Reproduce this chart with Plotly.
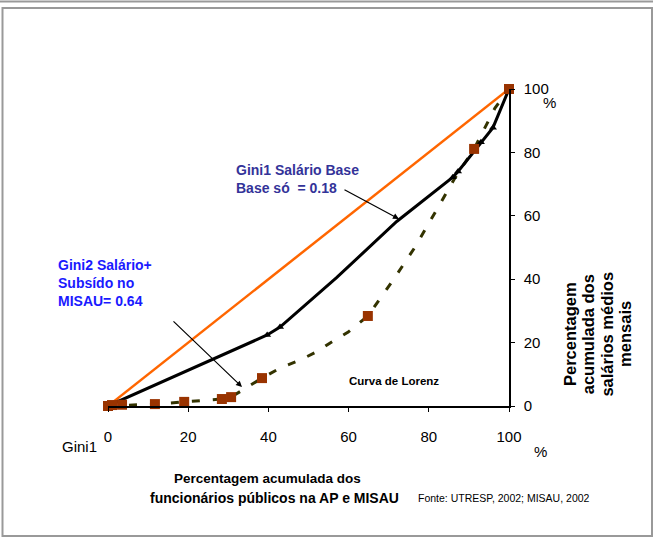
import plotly.graph_objects as go

# Linha de igualdade
igual_x = [0, 20, 40, 60, 80, 100]
igual_y = [0, 20, 40, 60, 80, 100]

# Gini1 - Salário base (linha preta)
gini1_x = [0, 20.4, 39.7, 42.9, 57.0, 72.0, 86.0, 87.3, 93.0, 96.0, 100]
gini1_y = [0, 11.4, 22.4, 24.9, 40.5, 58.2, 72.2, 74.0, 83.2, 87.8, 100]
gini1_mx = [39.7, 42.9, 86.0, 87.3, 93.0, 96.0]
gini1_my = [22.4, 24.9, 72.2, 74.0, 83.2, 87.8]

# Gini2 - Salário + subsídio (linha tracejada)
gini2_x = [0, 11.7, 19.0, 28.4, 30.7, 38.4, 43.0, 47.9, 51.9, 55.4, 59.9, 64.8,
           71.1, 76.6, 81.5, 86.5, 91.3, 94.0, 96.5, 100]
gini2_y = [0, 0.6, 1.3, 2.2, 2.8, 8.8, 12.0, 14.5, 17.0, 19.9, 23.3, 28.4,
           39.7, 50.2, 60.9, 71.9, 81.1, 88.0, 94.0, 100]
gini2_mx = [0, 1.0, 3.5, 11.7, 19.0, 28.4, 30.7, 38.4, 64.8, 91.3, 100]
gini2_my = [0, 0.3, 0.4, 0.6, 1.3, 2.2, 2.8, 8.8, 28.4, 81.1, 100]

ticks = [0, 20, 40, 60, 80, 100]

# titulo do eixo y, uma linha por anotacao
titulo_y = ["Percentagem", "acumulada dos", "salários médios", "mensais"]

FONTE = "Arial, Liberation Sans, sans-serif"

# area do grafico em pixels
X0, X1, Y0, Y1 = 108, 509, 406, 89


def px(x):
    return (x - X0) / (X1 - X0)


def py(y):
    return (Y0 - y) / (Y0 - Y1)


fig = go.Figure()

fig.add_trace(go.Scatter(x=igual_x, y=igual_y, mode='lines',
                         line=dict(color='#FF6600', width=2.5), cliponaxis=False))
fig.add_trace(go.Scatter(x=gini2_x, y=gini2_y, mode='lines',
                         line=dict(color='#333300', width=3, dash='8px,13px'), cliponaxis=False))
fig.add_trace(go.Scatter(x=gini1_x, y=gini1_y, mode='lines',
                         line=dict(color='black', width=3), cliponaxis=False))
fig.add_trace(go.Scatter(x=gini1_mx, y=gini1_my, mode='markers',
                         marker=dict(symbol='triangle-up', size=7, color='black'), cliponaxis=False))
fig.add_trace(go.Scatter(x=gini2_mx, y=gini2_my, mode='markers',
                         marker=dict(symbol='square', size=10, color='#993300'), cliponaxis=False))

anotacoes = [
    dict(x=px(234), y=py(179), text="<b>Gini1 Salário Base<br>Base só  = 0.18</b>",
         xanchor='left', yanchor='middle', align='left',
         font=dict(size=14, color='#333399')),
    dict(x=px(56), y=py(283), text="<b>Gini2 Salário+<br>Subsído no<br>MISAU= 0.64</b>",
         xanchor='left', yanchor='middle', align='left',
         font=dict(size=14, color='#1a1aff')),
    dict(x=px(394), y=py(381), text="<b>Curva de Lorenz</b>",
         xanchor='center', yanchor='middle', font=dict(size=11.5, color='black')),
    dict(x=px(60), y=py(446), text="Gini1", xanchor='left', yanchor='middle',
         font=dict(size=15, color='black')),
    dict(x=px(540), y=py(451), text="%", xanchor='center', yanchor='middle',
         font=dict(size=15, color='black')),
    dict(x=px(549), y=py(103), text="%", xanchor='center', yanchor='middle',
         font=dict(size=15, color='black')),
    dict(x=px(172), y=py(479), text="<b>Percentagem acumulada dos</b>",
         xanchor='left', yanchor='middle', font=dict(size=13.5, color='black')),
    dict(x=px(148), y=py(498), text="<b>funcionários públicos na AP e MISAU</b>",
         xanchor='left', yanchor='middle', font=dict(size=14, color='black')),
    dict(x=px(416), y=py(498), text="Fonte: UTRESP, 2002; MISAU, 2002",
         xanchor='left', yanchor='middle', font=dict(size=10.5, color='black')),
]
for i, linha in enumerate(titulo_y):
    anotacoes.append(dict(x=px(570 + 18.3 * i), y=py(334), text="<b>" + linha + "</b>",
                          textangle=-90, xanchor='center', yanchor='middle',
                          font=dict(size=16.5, color='black')))
for a in anotacoes:
    a.update(xref='paper', yref='paper', showarrow=False)

# setas
anotacoes.append(dict(x=px(399), y=py(219), xref='paper', yref='paper', text='',
                      showarrow=True, ax=-56, ay=-30, arrowhead=2, arrowsize=1,
                      arrowwidth=1.2, arrowcolor='black'))
anotacoes.append(dict(x=px(242), y=py(387), xref='paper', yref='paper', text='',
                      showarrow=True, ax=-70, ay=-67, arrowhead=2, arrowsize=1,
                      arrowwidth=1.2, arrowcolor='black'))

# moldura
cinza = '#999999'
molduras = [
    dict(type='line', x0=px(0), x1=px(653), y0=py(1.5), y1=py(1.5)),
    dict(type='rect', x0=px(2.5), x1=px(652), y0=py(8), y1=py(536)),
]
for s in molduras:
    s.update(xref='paper', yref='paper', line=dict(color=cinza, width=2))

fig.update_layout(
    width=656, height=538,
    margin=dict(l=X0, r=656 - X1, t=Y1, b=538 - Y0),
    paper_bgcolor='white', plot_bgcolor='white',
    showlegend=False,
    font=dict(family=FONTE, color='black'),
    xaxis=dict(
        range=[0, 100], tickvals=ticks, showgrid=False, zeroline=False,
        showline=True, linecolor='black', linewidth=1.5,
        ticks='outside', ticklen=4, tickcolor='black',
        tickfont=dict(size=15, family=FONTE), ticklabelstandoff=12,
        tickprefix='<b>', ticksuffix='</b>',
    ),
    yaxis=dict(
        range=[0, 100], tickvals=ticks, side='right', showgrid=False, zeroline=False,
        showline=True, linecolor='black', linewidth=1.5,
        ticks='outside', ticklen=4, tickcolor='black',
        tickfont=dict(size=15, family=FONTE), ticklabelstandoff=6,
        tickprefix='<b>', ticksuffix='</b>',
    ),
    annotations=anotacoes,
    shapes=molduras,
)

# a pagina tem margem de 8px por defeito; tira-se para o grafico ficar em (0, 0)
fig.write_html("out.html", config={'displayModeBar': False},
               post_script="document.body.style.margin = '0';")
